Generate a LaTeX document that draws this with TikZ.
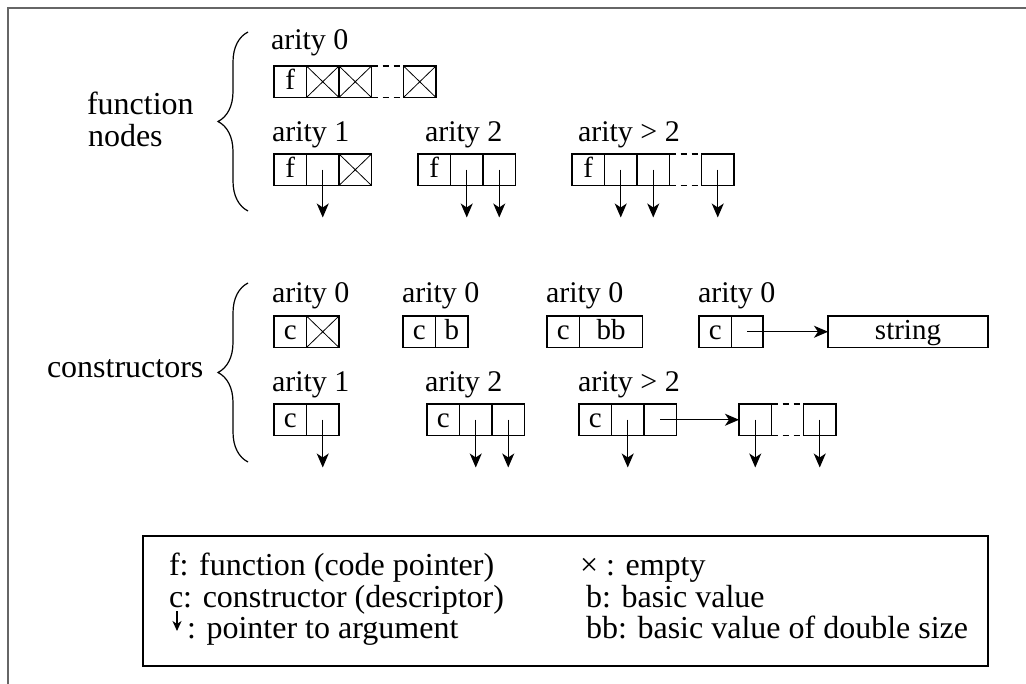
\documentclass[tikz,border=0pt]{standalone}
\usepackage{fontspec}
\setmainfont{Liberation Serif}
\usetikzlibrary{arrows.meta,decorations.pathreplacing,calc}

\newcommand\lblfont{\fontsize{32}{38}\selectfont}
\newcommand\arfont{\fontsize{30}{36}\selectfont}
\newcommand\cellfnt{\fontsize{29}{34}\selectfont}

\begin{document}
\begin{tikzpicture}[x=1pt,y=-1pt,
  every node/.style={inner sep=0pt, outer sep=0pt},
  frame/.style={line width=2pt, draw=black!60},
  cell/.style={draw, line width=1.2pt, minimum width=32.5pt, minimum height=31.5pt,
    text height=20pt, text depth=5pt, font=\cellfnt},
  xcell/.style={cell, path picture={
    \draw[line width=0.8pt] (path picture bounding box.north west) -- (path picture bounding box.south east)
      (path picture bounding box.south west) -- (path picture bounding box.north east);}},
  gap/.style={line width=1.2pt, dash pattern=on 6pt off 5pt},
  ptr/.style={line width=1.2pt, -{Stealth[length=14pt,width=12pt,inset=4pt]}},
  ptrsmall/.style={line width=1.1pt, -{Stealth[length=10pt,width=9pt,inset=3pt]}},
  brc/.style={line width=1.2pt, decorate, decoration={brace, amplitude=30pt}},
  lbl/.style={anchor=base west, font=\lblfont},
  ar/.style={anchor=base west, font=\arfont},
]
\useasboundingbox (0,0) rectangle (1026,684);

% outer frame (open on the right and bottom)
\draw[frame] (8,684) -- (8,8) -- (1026,8);

% ---------- function nodes ----------
\node[lbl] (fnl1) at (87,115) {function};
\node[lbl] (fnl2) at (88,147) {nodes};
\draw[brc] (248,211) -- (248,32);

% arity 0
\node[ar] (fa-l) at (271,50) {arity 0};
\node[cell, anchor=north west] (fa0) at (274,66) {f};
\node[xcell, anchor=west] (fa1) at (fa0.east) {};
\node[xcell, anchor=west] (fa2) at (fa1.east) {};
\node[xcell, anchor=west] (fa3) at ($(fa2.east)+(32,0)$) {};
\draw[gap] (fa2.north east) -- (fa3.north west) (fa2.south east) -- (fa3.south west);

% arity 1
\node[ar] (fb-l) at (272,142) {arity 1};
\node[cell, anchor=north west] (fb0) at (274,154) {f};
\node[cell, anchor=west] (fb1) at (fb0.east) {};
\node[xcell, anchor=west] (fb2) at (fb1.east) {};

% arity 2
\node[ar] (fc-l) at (425,142) {arity 2};
\node[cell, anchor=north west] (fc0) at (418,154) {f};
\node[cell, anchor=west] (fc1) at (fc0.east) {};
\node[cell, anchor=west] (fc2) at (fc1.east) {};

% arity > 2
\node[ar] (fd-l) at (578,142) {arity > 2};
\node[cell, anchor=north west] (fd0) at (572,154) {f};
\node[cell, anchor=west] (fd1) at (fd0.east) {};
\node[cell, anchor=west] (fd2) at (fd1.east) {};
\node[cell, anchor=west] (fd3) at ($(fd2.east)+(32,0)$) {};
\draw[gap] (fd2.north east) -- (fd3.north west) (fd2.south east) -- (fd3.south west);

% ---------- constructors ----------
\node[lbl] (cnl) at (47,378) {constructors};
\draw[brc] (248,462) -- (248,283);

% arity 0: empty
\node[ar] (ca-l) at (272,303) {arity 0};
\node[cell, anchor=north west] (ca0) at (274,316) {c};
\node[xcell, anchor=west] (ca1) at (ca0.east) {};

% arity 0: basic value
\node[ar] (cb-l) at (402,303) {arity 0};
\node[cell, anchor=north west] (cb0) at (403,316) {c};
\node[cell, anchor=west] (cb1) at (cb0.east) {b};

% arity 0: double basic value
\node[ar] (cc-l) at (546,303) {arity 0};
\node[cell, anchor=north west] (cc0) at (547,316) {c};
\node[cell, anchor=west, minimum width=63pt] (cc1) at (cc0.east) {bb};

% arity 0: string
\node[ar] (cd-l) at (698,303) {arity 0};
\node[cell, anchor=north west] (cd0) at (699,316) {c};
\node[cell, anchor=west, minimum width=31.5pt] (cd1) at (cd0.east) {};
\node[cell, anchor=north west, minimum width=160pt] (str) at (828,316) {string};
\draw[ptr] (cd1.center) -- (str.west);

% arity 1
\node[ar] (ce-l) at (272,392) {arity 1};
\node[cell, anchor=north west] (ce0) at (274,404) {c};
\node[cell, anchor=west] (ce1) at (ce0.east) {};

% arity 2
\node[ar] (cf-l) at (425,392) {arity 2};
\node[cell, anchor=north west] (cf0) at (427,404) {c};
\node[cell, anchor=west] (cf1) at (cf0.east) {};
\node[cell, anchor=west] (cf2) at (cf1.east) {};

% arity > 2
\node[ar] (cg-l) at (578,392) {arity > 2};
\node[cell, anchor=north west] (cg0) at (579,404) {c};
\node[cell, anchor=west] (cg1) at (cg0.east) {};
\node[cell, anchor=west] (cg2) at (cg1.east) {};
\node[cell, anchor=north west] (ch0) at (739,404) {};
\node[cell, anchor=west] (ch1) at ($(ch0.east)+(32,0)$) {};
\draw[gap] (ch0.north east) -- (ch1.north west) (ch0.south east) -- (ch1.south west);
\draw[ptr] (cg2.center) -- (ch0.west);

% argument pointers
\foreach \c in {fb1,fc1,fc2,fd1,fd2,fd3,ce1,cf1,cf2,cg1,ch0,ch1}{
  \coordinate (\c-end) at ($(\c.south)+(0,32)$);
  \draw[ptr] (\c.center) -- (\c-end);
}

% ---------- legend ----------
\node[draw, line width=1.2pt, anchor=north west, minimum width=845pt, minimum height=130pt] (legend) at (143,536) {};
\node[lbl] (lg1) at (169,575) {f: function (code pointer)};
\node[lbl] (lg2) at (169,607) {c: constructor (descriptor)};
\coordinate (lgA) at (177,611);
\coordinate (lgB) at (177,631);
\draw[ptrsmall] (lgA) -- (lgB);
\node[lbl] (lg3) at (187,638) {: pointer to argument};
\node[lbl] (lg4) at (580,575) {× : empty};
\node[lbl] (lg5) at (586,607) {b: basic value};
\node[lbl] (lg6) at (586,638) {bb: basic value of double size};
\end{tikzpicture}
\end{document}
